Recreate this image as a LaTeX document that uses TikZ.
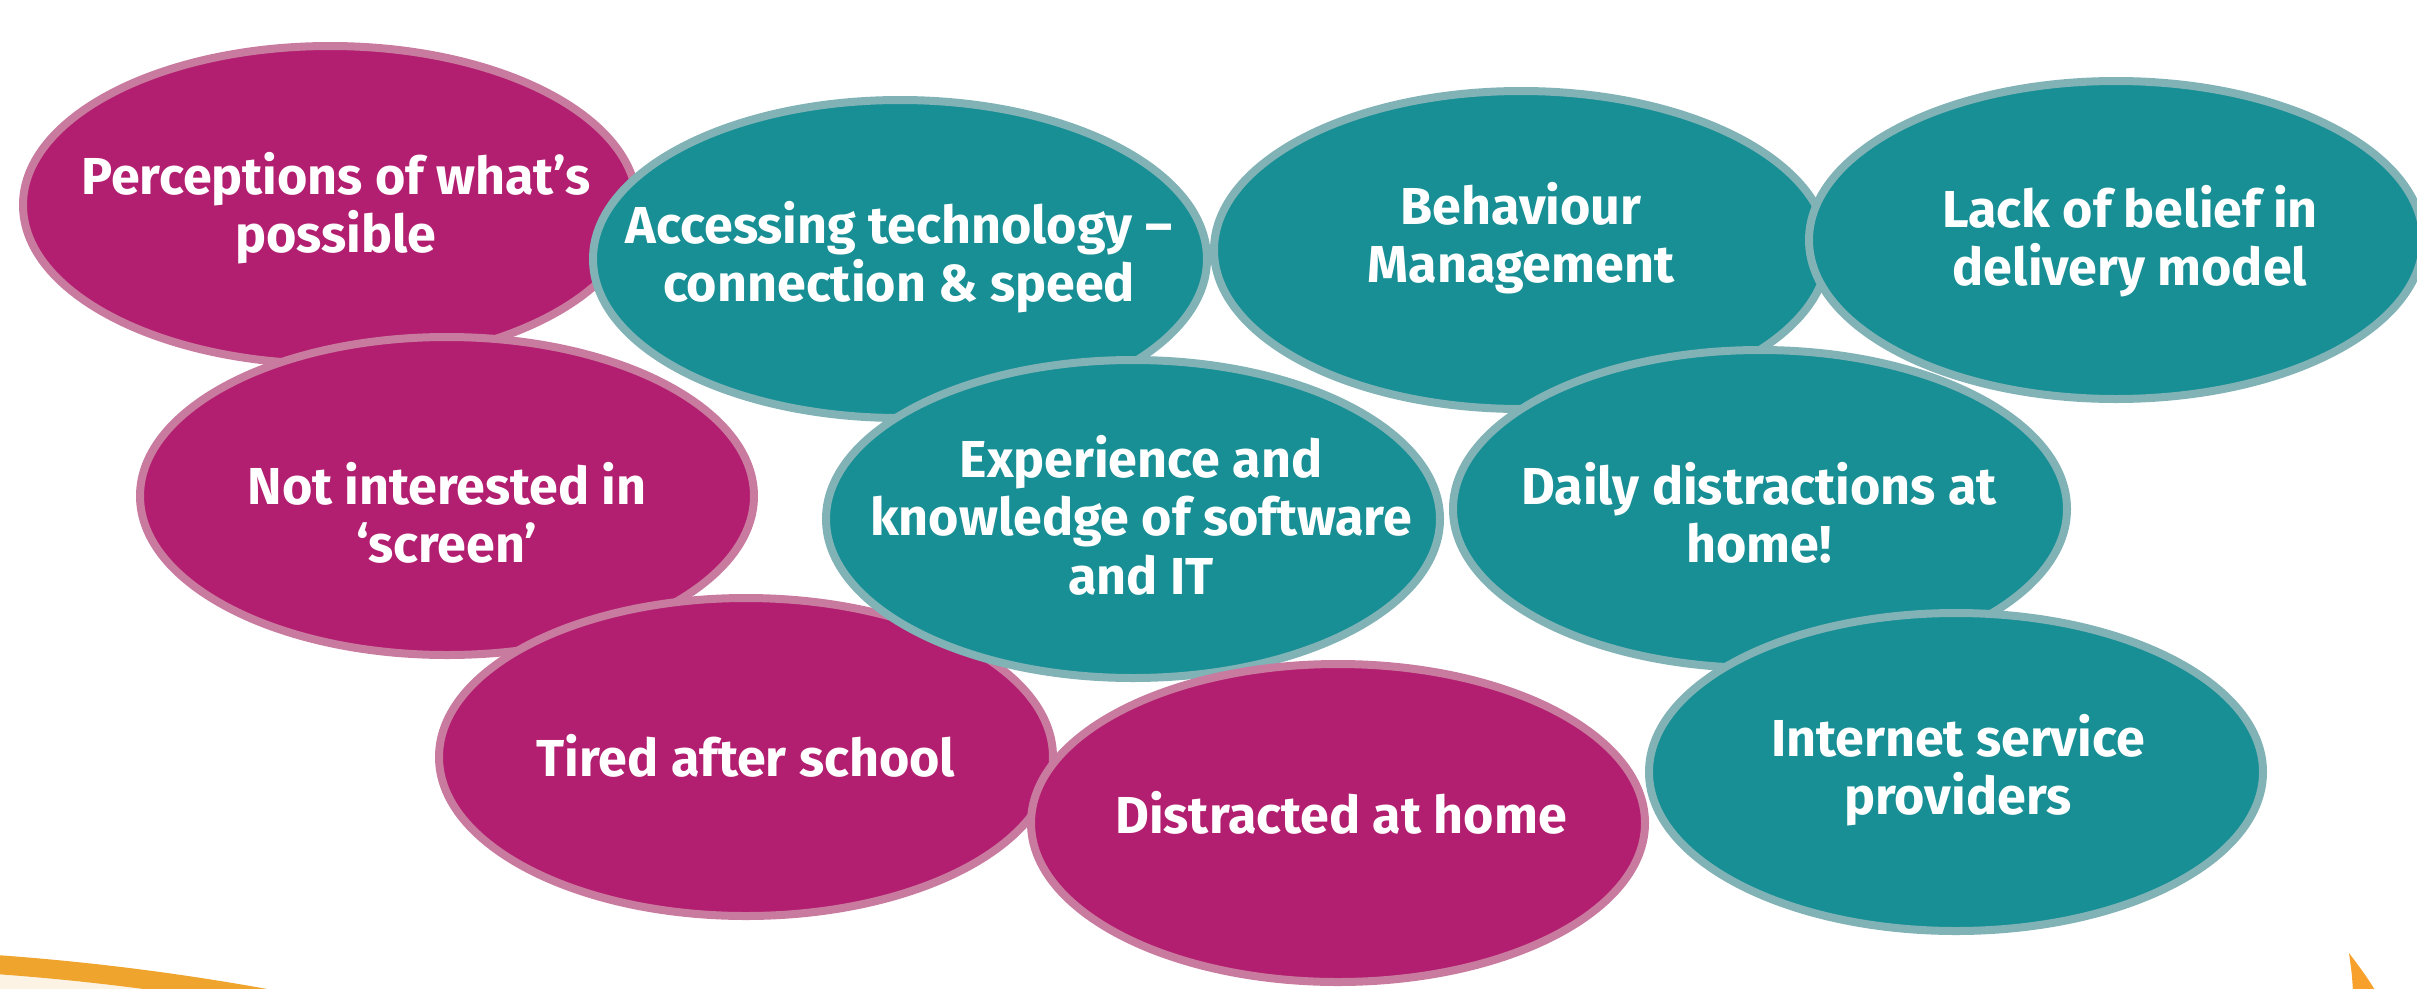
\documentclass[tikz,border=0pt]{standalone}
\usepackage{fontspec}
\setmainfont{Fira Sans}
\usetikzlibrary{shapes.geometric}
\definecolor{magfill}{HTML}{B31F70}
\definecolor{magline}{HTML}{C97B9F}
\definecolor{tealfill}{HTML}{178F95}
\definecolor{tealline}{HTML}{80B2B6}
\definecolor{orangeline}{HTML}{EEA42D}
\definecolor{creamfill}{HTML}{FDF3E5}
\definecolor{orangefill}{HTML}{F7A02B}
\tikzset{
  blob/.style={ellipse, minimum width=614pt, minimum height=318pt, inner sep=0pt, line width=8pt},
  magblob/.style={blob, draw=magline, fill=magfill},
  tealblob/.style={blob, draw=tealline, fill=tealfill},
  lbl/.style={text=white, align=center, inner sep=0pt, font=\fontsize{52}{58.5}\selectfont\bfseries}
}
\begin{document}
\begin{tikzpicture}[x=1pt,y=-1pt]
\useasboundingbox (0,0) rectangle (2417,988);
\begin{scope}
\clip (0,0) rectangle (2417,988);
\draw[line width=19pt, draw=orangeline, fill=creamfill] (-187,3488) circle[radius=2530];
\fill[orangefill] (2349,953) .. controls (2358,965) and (2368,978) .. (2376,992) -- (2353,992) .. controls (2352,975) .. (2349,953);
\end{scope}
\node[magblob] (e1) at (330,205) {};
\node[lbl] (t1) at (336,208) {Perceptions of what’s\\possible};
\node[tealblob] (e2) at (900,259) {};
\node[lbl] (t2) at (899,257) {Accessing technology –\\connection \& speed};
\node[tealblob] (e3) at (1521,250) {};
\node[lbl] (t3) at (1521,238) {Behaviour\\Management};
\node[tealblob] (e4) at (2116,240) {};
\node[lbl] (t4) at (2130,241) {Lack of belief in\\delivery model};
\node[magblob] (e5) at (447,496) {};
\node[lbl] (t5) at (447,513) {Not interested in\\‘screen’};
\node[magblob] (e8) at (746,757) {};
\node[lbl] (t8) at (746,756) {Tired after school};
\node[tealblob] (e6) at (1133,519) {};
\node[lbl] (t6) at (1141,515) {Experience and\\knowledge of software\\and IT};
\node[tealblob] (e7) at (1760,509) {};
\node[lbl] (t7) at (1759,513) {Daily distractions at\\home!};
\node[magblob] (e9) at (1338,823) {};
\node[lbl] (t9) at (1341,813) {Distracted at home};
\node[tealblob] (e10) at (1956,772) {};
\node[lbl] (t10) at (1958,770) {Internet service\\providers};
\end{tikzpicture}
\end{document}
